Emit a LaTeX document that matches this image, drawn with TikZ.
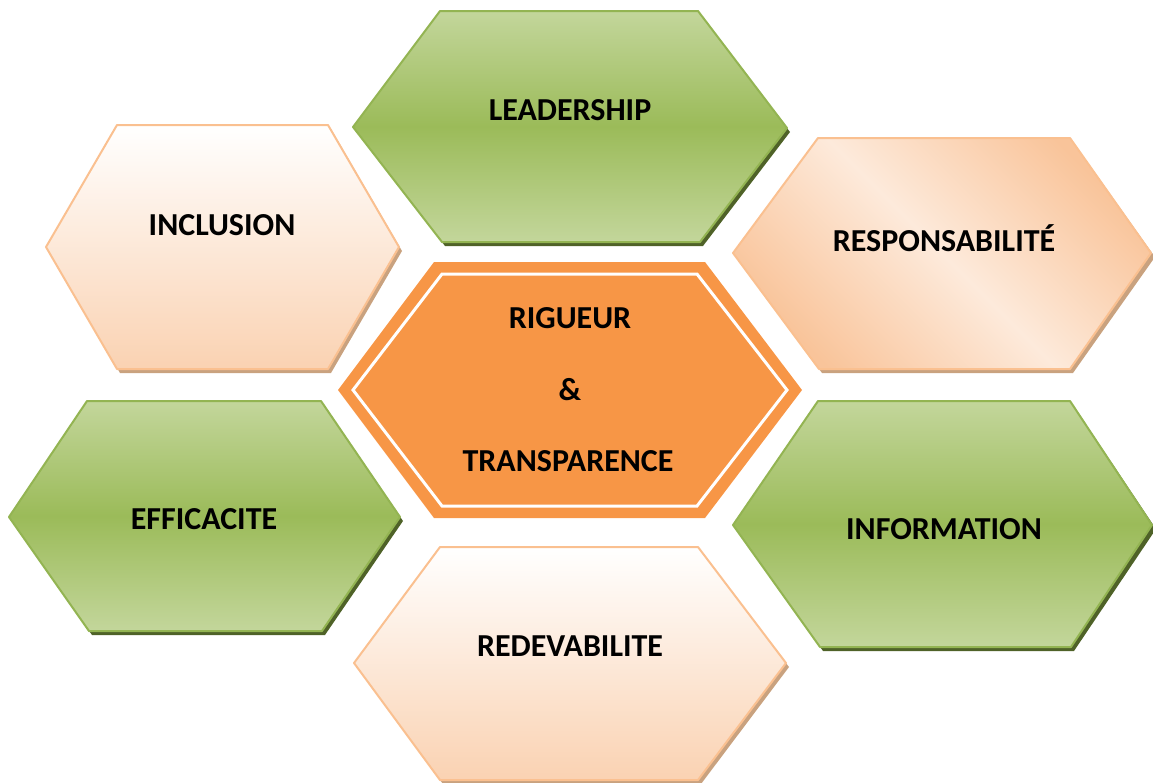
\documentclass[tikz,border=0pt]{standalone}
\usepackage{fontspec}
\setmainfont{Carlito}
\definecolor{grLight}{HTML}{C3D69B}
\definecolor{grMid}{HTML}{9BBB59}
\definecolor{grEdge}{HTML}{93B452}
\definecolor{grShadow}{HTML}{4F6228}
\definecolor{pcLight}{HTML}{FDEADB}
\definecolor{pcDark}{HTML}{FAD2B2}
\definecolor{pcCorner}{HTML}{F9C49A}
\definecolor{pcEdge}{HTML}{FAC090}
\definecolor{pcShadow}{HTML}{C9A27F}
\definecolor{orCenter}{HTML}{F79646}
\tikzset{
  greenhex/.style={draw=grEdge, line width=2pt, line join=round, top color=grLight, bottom color=grLight, middle color=grMid},
  peachhex/.style={draw=pcEdge, line width=2pt, line join=round, top color=white, bottom color=pcDark},
  peachdiag/.style={draw=pcEdge, line width=2pt, line join=round, left color=pcCorner, right color=pcCorner, middle color=pcLight, shading angle=-45},
  greenshadow/.style={fill=grShadow},
  peachshadow/.style={fill=pcShadow},
  label/.style={font=\fontsize{32}{38}\selectfont\bfseries, text=black, inner sep=0pt}
}
\begin{document}
\begin{tikzpicture}[x=1pt,y=-1pt]
\useasboundingbox (0,0) rectangle (1153,782);
% LEADERSHIP
\fill[greenshadow] (443,15) -- (701,15) -- (790,132) -- (703,246) -- (445,246) -- (357,132) -- cycle;
\path[greenhex] (440,11) -- (698,11) -- (787,128) -- (700,242) -- (442,242) -- (353,127) -- cycle;
\node[label] (lead) at (570,110) {LEADERSHIP};
% INCLUSION
\fill[peachshadow] (120,129) -- (331,129) -- (402,251) -- (331,373) -- (120,373) -- (49,251) -- cycle;
\path[peachhex] (117,125) -- (328,125) -- (399,247) -- (328,369) -- (117,369) -- (46,247) -- cycle;
\node[label] (incl) at (222,225) {INCLUSION};
% RESPONSABILITE
\fill[peachshadow] (821,142) -- (1073,142) -- (1155,257) -- (1073,373) -- (822,373) -- (736,257) -- cycle;
\path[peachdiag] (818,138) -- (1070,138) -- (1151,253) -- (1070,369) -- (819,369) -- (733,253) -- cycle;
\node[label] (resp) at (944,238) {RESPONSABILITÉ};
% EFFICACITE
\fill[greenshadow] (90,405) -- (324,405) -- (403,521) -- (325,635) -- (92,635) -- (12,521) -- cycle;
\path[greenhex] (87,401) -- (321,401) -- (400,517) -- (322,631) -- (89,631) -- (9,517) -- cycle;
\node[label] (effi) at (204,519) {EFFICACITE};
% INFORMATION
\fill[greenshadow] (821,405) -- (1073,405) -- (1156,529) -- (1074,651) -- (823,651) -- (736,529) -- cycle;
\path[greenhex] (818,401) -- (1070,401) -- (1152,525) -- (1071,647) -- (820,647) -- (733,525) -- cycle;
\node[label] (info) at (944,529) {INFORMATION};
% REDEVABILITE
\fill[peachshadow] (443,551) -- (701,551) -- (789,667) -- (701,784) -- (443,784) -- (357,667) -- cycle;
\path[peachhex] (440,547) -- (698,547) -- (786,663) -- (698,780) -- (440,780) -- (354,663) -- cycle;
\node[label] (rede) at (570,646) {REDEVABILITE};
% CENTER
\fill[orCenter] (434,262) -- (705,262) -- (802,390) -- (705,518) -- (434,518) -- (338,390) -- cycle;
\draw[white, line width=3pt, line join=miter] (442,274) -- (697,274) -- (787,390) -- (697,506) -- (442,506) -- (353,390) -- cycle;
\node[label] (rig) at (570,318) {RIGUEUR};
\node[label] (amp) at (570,390) {\&};
\node[label] (tra) at (568,461) {TRANSPARENCE};
\end{tikzpicture}
\end{document}
